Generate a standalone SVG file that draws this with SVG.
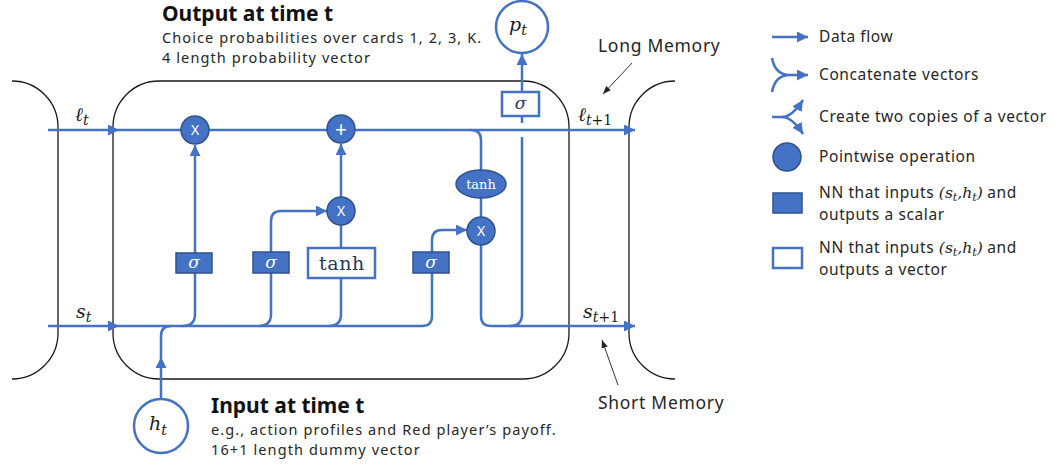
<svg xmlns="http://www.w3.org/2000/svg" width="1055" height="465" viewBox="0 0 1055 465">
<style>
  .frame{fill:none;stroke:#1a1a1a;stroke-width:1.3}
  .flow{fill:none;stroke:#4472C4;stroke-width:2.5;stroke-linejoin:round}
  .thin{fill:none;stroke:#333;stroke-width:1}
  .op{fill:#4472C4;stroke:#2F528F;stroke-width:1.5}
  .nnv{fill:#fff;stroke:#4472C4;stroke-width:2.5}
  .opt{font-family:"Noto Sans","Liberation Sans",sans-serif;font-size:14px;fill:#fff;text-anchor:middle}
  .plus{font-size:21px}
  .math{font-family:"DejaVu Serif","Liberation Serif",serif;font-style:italic;fill:#1a1a1a}
  .up{font-style:normal}
  .sg{font-family:"DejaVu Serif","Liberation Serif",serif;font-style:italic;font-size:17px;text-anchor:middle}
  .lbl{font-family:"Noto Sans","Liberation Sans",sans-serif;fill:#262626}
  .title{font-weight:bold;font-size:21px;fill:#111}
  .sub{font-size:14.5px;letter-spacing:1.1px}
  .note{font-size:17.5px;letter-spacing:0.7px}
  .leg{font-size:15.5px;letter-spacing:0.6px}
  .lm{font-family:"DejaVu Serif","Liberation Serif",serif;font-style:italic;fill:#1a1a1a;letter-spacing:0}
</style>
<defs>
  <marker id="ah" viewBox="0 0 10 10" refX="10" refY="5" markerWidth="4.4" markerHeight="4.4" orient="auto">
    <path d="M0,0 L10,5 L0,10 z" fill="#4472C4"/>
  </marker>
  <marker id="ahk" viewBox="0 0 10 10" refX="10" refY="5" markerUnits="userSpaceOnUse" markerWidth="8" markerHeight="8" orient="auto">
    <path d="M0,1 L10,5 L0,9 z" fill="#222"/>
  </marker>
</defs>

<!-- cell frames -->
<g id="frames">
  <path class="frame" d="M12,81 A46,46 0 0 1 58,127 V333 A46,46 0 0 1 12,379"/>
  <rect class="frame" x="113" y="81" width="456" height="298" rx="46" ry="46"/>
  <path class="frame" d="M675,81 A46,46 0 0 0 629,127 V333 A46,46 0 0 0 675,379"/>
</g>

<!-- data flow lines -->
<g id="connectors">
  <path class="flow" d="M48,130 H119" marker-end="url(#ah)"/>
  <path class="flow" d="M119,130 H635" marker-end="url(#ah)"/>
  <path class="flow" d="M48,326 H119" marker-end="url(#ah)"/>
  <path class="flow" d="M119,326 H422 Q432,326 432,316 V273"/>
  <path class="flow" d="M161,399 V357" marker-end="url(#ah)"/>
  <path class="flow" d="M161,357 V336 Q161,326 171,326"/>
  <path class="flow" d="M183,326 Q195,326 195,314 V273"/>
  <path class="flow" d="M195,253 V145" marker-end="url(#ah)"/>
  <path class="flow" d="M259,326 Q271,326 271,314 V273"/>
  <path class="flow" d="M271,252 V221 Q271,211 281,211 H327" marker-end="url(#ah)"/>
  <path class="flow" d="M329,326 Q341,326 341,314 V278"/>
  <path class="flow" d="M341,248 V225"/>
  <path class="flow" d="M341,197 V144" marker-end="url(#ah)"/>
  <path class="flow" d="M432,252 V240 Q432,230 442,230 H467" marker-end="url(#ah)"/>
  <path class="flow" d="M471,130 Q481,130 481,140 V170"/>
  <path class="flow" d="M481,198 V217"/>
  <path class="flow" d="M481,245 V316 Q481,326 491,326 H635" marker-end="url(#ah)"/>
  <path class="flow" d="M510,326 Q522,326 522,314 V137"/>
  <path class="flow" d="M522,123 V116"/>
  <path class="flow" d="M522,92 V54" marker-end="url(#ah)"/>
  <path class="thin" d="M632,63 L603,94" marker-end="url(#ahk)"/>
  <path class="thin" d="M618,385 L602,340" marker-end="url(#ahk)"/>
</g>

<!-- forget gate -->
<g id="mul-forget">
  <circle class="op" cx="195" cy="130" r="14"/>
  <text class="opt" x="195" y="135">X</text>
</g>
<g id="sig-forget">
  <rect class="op" x="176" y="253" width="36" height="20"/>
  <text class="sg" x="194" y="268" fill="#fff">σ</text>
</g>

<!-- input gate -->
<g id="add-cell">
  <circle class="op" cx="341" cy="129" r="14"/>
  <text class="opt plus" x="341" y="136.5">+</text>
</g>
<g id="mul-input">
  <circle class="op" cx="341" cy="211" r="14"/>
  <text class="opt" x="341" y="216">X</text>
</g>
<g id="sig-input">
  <rect class="op" x="253" y="252" width="36" height="21"/>
  <text class="sg" x="271" y="268" fill="#fff">σ</text>
</g>
<g id="tanh-candidate">
  <rect class="nnv" x="308" y="248" width="67" height="30"/>
  <text x="342" y="270" font-family="DejaVu Serif, Liberation Serif, serif" font-size="19" letter-spacing="0.6" fill="#203864" text-anchor="middle">tanh</text>
</g>

<!-- output gate -->
<g id="sig-output">
  <rect class="op" x="413" y="252" width="36" height="21"/>
  <text class="sg" x="431" y="268" fill="#fff">σ</text>
</g>
<g id="tanh-cell">
  <ellipse class="op" cx="481" cy="184" rx="25" ry="14"/>
  <text x="481" y="188.5" font-family="DejaVu Serif, Liberation Serif, serif" font-size="13" fill="#fff" text-anchor="middle">tanh</text>
</g>
<g id="mul-output">
  <circle class="op" cx="481" cy="231" r="14"/>
  <text class="opt" x="481" y="236">X</text>
</g>

<!-- prediction head -->
<g id="sig-pred">
  <rect class="nnv" x="502" y="92" width="37" height="24"/>
  <text class="sg" x="520.5" y="109" fill="#203864">σ</text>
</g>
<g id="p-out">
  <circle class="nnv" cx="522" cy="27" r="26"/>
  <text class="math" x="509" y="31" font-size="19">p<tspan dy="4" font-size="14">t</tspan></text>
</g>
<g id="h-in">
  <circle class="nnv" cx="161" cy="426" r="27"/>
  <text class="math" x="149" y="430" font-size="19">h<tspan dy="5" font-size="14">t</tspan></text>
</g>

<!-- state labels -->
<g id="state-labels">
  <text class="math" x="75" y="121" font-size="19">ℓ<tspan dy="4" font-size="14">t</tspan></text>
  <text class="math" x="76" y="318" font-size="19">s<tspan dy="4" font-size="14">t</tspan></text>
  <text class="math" x="578" y="121" font-size="19">ℓ<tspan dy="4" font-size="14">t<tspan class="up">+1</tspan></tspan></text>
  <text class="math" x="583" y="318" font-size="19">s<tspan dy="4" font-size="14">t<tspan class="up">+1</tspan></tspan></text>
</g>

<!-- captions -->
<g id="captions" class="lbl">
  <text class="title" x="162" y="21">Output at time t</text>
  <text class="sub" x="162" y="43">Choice probabilities over cards 1, 2, 3, K.</text>
  <text class="sub" x="162" y="63">4 length probability vector</text>
  <text class="title" x="211" y="413">Input at time t</text>
  <text class="sub" x="211" y="435">e.g., action profiles and Red player’s payoff.</text>
  <text class="sub" x="211" y="455">16+1 length dummy vector</text>
  <text class="note" x="598" y="52">Long Memory</text>
  <text class="note" x="598" y="409">Short Memory</text>
</g>

<!-- legend -->
<g id="legend">
  <path class="flow" d="M772,37 H808" marker-end="url(#ah)"/>
  <path class="flow" d="M772,58 Q775,75 790,75 M772,92 Q775,75 790,75 M788,75 H808" marker-end="url(#ah)"/>
  <path class="flow" d="M772,117 H782 Q792,117 803,100" marker-end="url(#ah)"/>
  <path class="flow" d="M782,117 Q792,117 803,134" marker-end="url(#ah)"/>
  <circle class="op" cx="787" cy="157" r="14"/>
  <rect class="op" x="773" y="193" width="29" height="20"/>
  <rect class="nnv" x="773" y="248" width="29" height="20"/>
  <g class="lbl leg">
    <text x="819" y="42">Data flow</text>
    <text x="819" y="80">Concatenate vectors</text>
    <text x="819" y="122">Create two copies of a vector</text>
    <text x="819" y="162">Pointwise operation</text>
    <text x="819" y="198">NN that inputs <tspan class="lm up">(</tspan><tspan class="lm">s<tspan dy="3" font-size="11">t</tspan></tspan><tspan class="lm up" dy="-3">,</tspan><tspan class="lm">h<tspan dy="3" font-size="11">t</tspan></tspan><tspan class="lm up" dy="-3">)</tspan> and</text>
    <text x="819" y="220">outputs a scalar</text>
    <text x="819" y="253">NN that inputs <tspan class="lm up">(</tspan><tspan class="lm">s<tspan dy="3" font-size="11">t</tspan></tspan><tspan class="lm up" dy="-3">,</tspan><tspan class="lm">h<tspan dy="3" font-size="11">t</tspan></tspan><tspan class="lm up" dy="-3">)</tspan> and</text>
    <text x="819" y="275">outputs a vector</text>
  </g>
</g>
</svg>
